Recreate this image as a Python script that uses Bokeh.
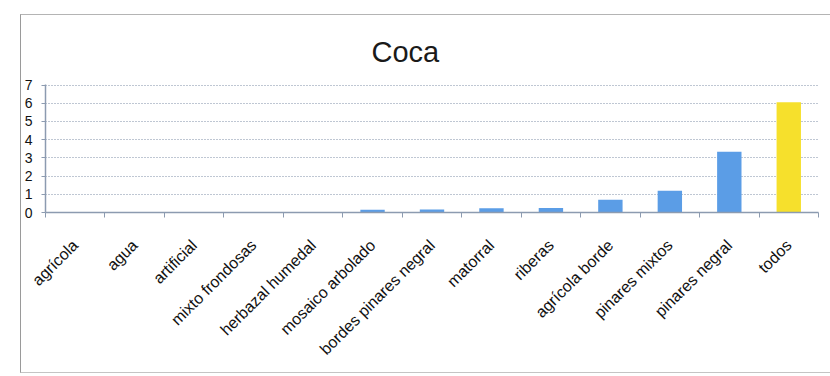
import math

from bokeh.embed import file_html
from bokeh.models import ColumnDataSource, FixedTicker, Range1d, Title
from bokeh.plotting import figure
from bokeh.resources import INLINE

# habitat categories and the value for each one
categories = [
    "agrícola", "agua", "artificial", "mixto frondosas", "herbazal humedal",
    "mosaico arbolado", "bordes pinares negral", "matorral", "riberas",
    "agrícola borde", "pinares mixtos", "pinares negral", "todos",
]
values = [0, 0, 0, 0, 0, 0.15, 0.16, 0.23, 0.25, 0.7, 1.2, 3.33, 6.05]
y_ticks = [0, 1, 2, 3, 4, 5, 6, 7]

BLUE = "#5b9de6"
YELLOW = "#f6e02c"
AXIS = "#8c9bb0"
FONT = "Liberation Sans"

n = len(categories)
centers = [i + 0.5 for i in range(n)]
colors = [YELLOW if c == "todos" else BLUE for c in categories]
src = ColumnDataSource(dict(x=centers, top=values, color=colors, name=categories))

p = figure(
    width=810, height=359, margin=(14, 0, 3, 20),
    x_range=Range1d(0, n), y_range=Range1d(0, 7.03),
    output_backend="svg", toolbar_location=None,
    min_border_left=21, min_border_right=13,
    min_border_top=69, min_border_bottom=162,
    background_fill_color="white", border_fill_color="white",
)
p.outline_line_color = None
p.styles = {
    "border-left": "1px solid #9a9a9a",
    "border-top": "1px solid #b4b4b4",
    "border-bottom": "1px solid #c4c4c4",
}

title = Title(text="Coca", align="left", offset=326, standoff=33,
              text_font=FONT, text_font_size="29px", text_font_style="normal",
              text_color="#1a1a1a")
p.add_layout(title, "above")

p.vbar(x="x", top="top", width=0.41, color="color", line_color=None, source=src)

# x axis: labels at category centres, small ticks on category boundaries
xa = p.xaxis[0]
xa.ticker = FixedTicker(ticks=centers, minor_ticks=list(range(n + 1)))
xa.major_label_overrides = {c: name for c, name in zip(centers, categories)}
xa.major_label_orientation = math.pi / 4
xa.major_label_text_font = FONT
xa.major_label_text_font_size = "16px"
xa.major_label_text_color = "#111111"
xa.major_label_standoff = 24
xa.major_tick_line_color = None
xa.minor_tick_line_color = AXIS
xa.minor_tick_out = 5
xa.minor_tick_in = 0
xa.axis_line_color = AXIS
xa.axis_line_width = 1.5

ya = p.yaxis[0]
ya.ticker = FixedTicker(ticks=y_ticks)
ya.major_label_text_font = FONT
ya.major_label_text_font_size = "14px"
ya.major_label_text_color = "#111111"
ya.major_label_standoff = 9
ya.major_tick_line_color = AXIS
ya.major_tick_out = 4
ya.major_tick_in = 0
ya.minor_tick_line_color = None
ya.axis_line_color = AXIS
ya.axis_line_width = 1.5

p.xgrid.grid_line_color = None
p.ygrid.grid_line_color = "#7f8fa6"
p.ygrid.grid_line_dash = "1 2"
p.ygrid.grid_line_width = 1

open("out.html", "w").write(file_html(p, INLINE))
